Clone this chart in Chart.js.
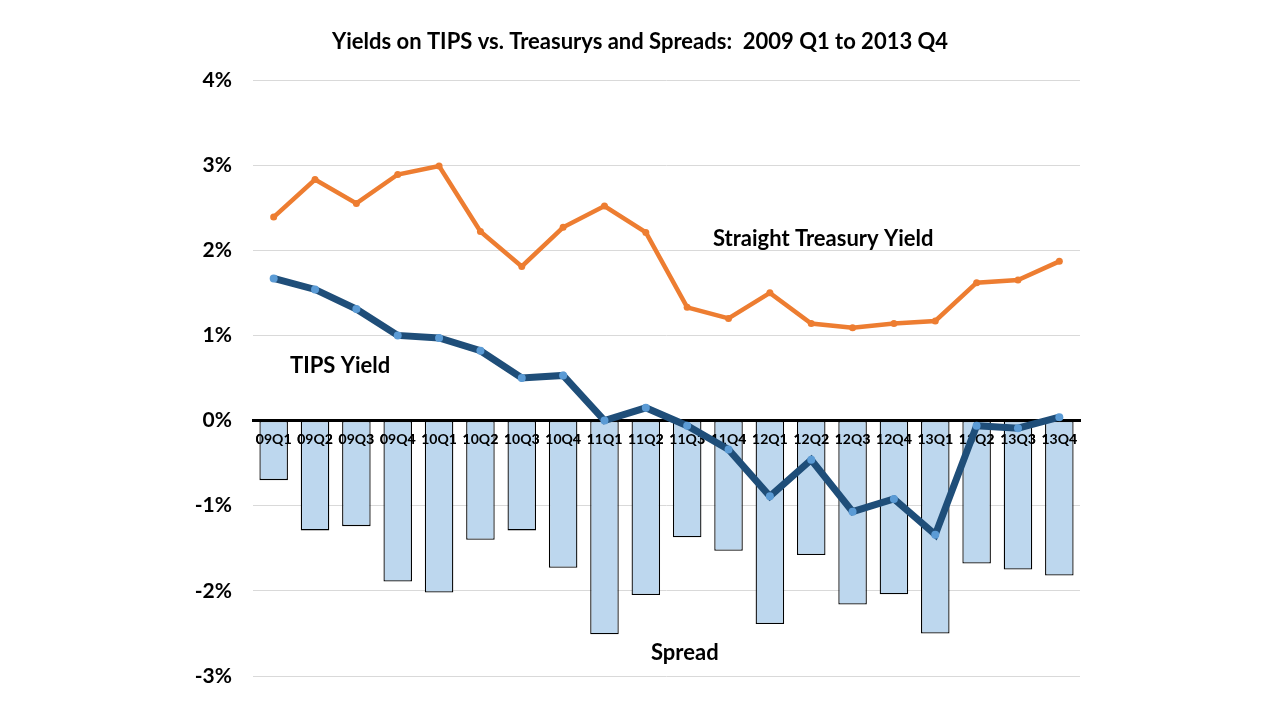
<!DOCTYPE html>
<html>
<head>
<meta charset="utf-8">
<script src="https://cdn.jsdelivr.net/npm/chart.js@4"></script>
<style>
html,body{margin:0;padding:0;background:#fff;}
#wrap{width:1280px;height:720px;}
</style>
</head>
<body>
<div id="wrap"><canvas id="c" width="1280" height="720"></canvas></div>
<script>
const quarters = ['09Q1','09Q2','09Q3','09Q4','10Q1','10Q2','10Q3','10Q4','11Q1','11Q2','11Q3','11Q4','12Q1','12Q2','12Q3','12Q4','13Q1','13Q2','13Q3','13Q4'];
const treasuryYield = [2.39,2.83,2.55,2.89,2.99,2.22,1.81,2.27,2.52,2.21,1.33,1.20,1.50,1.14,1.09,1.14,1.17,1.62,1.65,1.87];
const tipsYield = [1.67,1.54,1.31,1.00,0.97,0.82,0.50,0.53,0.00,0.15,-0.06,-0.34,-0.89,-0.46,-1.07,-0.92,-1.34,-0.06,-0.09,0.04];
const spread = [-0.70,-1.29,-1.24,-1.89,-2.02,-1.40,-1.29,-1.73,-2.51,-2.05,-1.37,-1.53,-2.39,-1.58,-2.16,-2.04,-2.50,-1.68,-1.75,-1.82];
const yTicks = [-3,-2,-1,0,1,2,3,4];
const titleText = 'Yields on TIPS vs. Treasurys and Spreads:  2009 Q1 to 2013 Q4';
const notes = [
  {text:'Straight Treasury Yield', x:713, y:239},
  {text:'TIPS Yield', x:290, y:366},
  {text:'Spread', x:651, y:653}
];
const FONT = 'Lato, "Open Sans", sans-serif';

const notesPlugin = {
  id:'notes',
  afterDatasetDraw(chart, args){
    // redraw category axis (labels + zero line) above the bars, below the lines
    if (args.index === 0) {
      chart.scales.x.draw(chart.chartArea);
    }
  },
  afterDraw(chart){
    const ctx = chart.ctx;
    ctx.save();
    ctx.fillStyle = '#000';
    ctx.textBaseline = 'middle';
    ctx.textAlign = 'center';
    ctx.font = 'bold 22px ' + FONT;
    ctx.fillText(titleText, 640, 42);
    ctx.textAlign = 'left';
    notes.forEach(n => ctx.fillText(n.text, n.x, n.y));
    ctx.restore();
  }
};

new Chart(document.getElementById('c'), {
  data: {
    labels: quarters,
    datasets: [
      {type:'bar', label:'Spread', data:spread, backgroundColor:'#BDD7EE', borderColor:'#000', borderWidth:1.3, borderSkipped:false, categoryPercentage:1, barPercentage:0.69, order:3},
      {type:'line', label:'Straight Treasury Yield', data:treasuryYield, borderColor:'#ED7D31', borderWidth:4.5, pointRadius:3.5, pointBackgroundColor:'#ED7D31', pointBorderWidth:0, tension:0, order:2},
      {type:'line', label:'TIPS Yield', data:tipsYield, borderColor:'#1F4E79', borderWidth:7, pointRadius:4, pointBackgroundColor:'#5B9BD5', pointBorderColor:'#5B9BD5', pointBorderWidth:0, tension:0, order:1}
    ]
  },
  options: {
    responsive:false,
    animation:false,
    layout:{padding:{left:0,right:200,top:80,bottom:44}},
    plugins:{
      legend:{display:false},
      tooltip:{enabled:false},
      title:{display:false}
    },
    scales:{
      x:{
        position:{y:0},
        offset:true,
        grid:{display:false, drawTicks:false},
        border:{display:true, color:'#000', width:3},
        ticks:{color:'#000', font:{family:FONT, size:14, weight:'bold'}, padding:11, maxRotation:0, autoSkip:false}
      },
      y:{
        min:-3, max:4,
        afterFit(s){ s.width = 253; },
        afterBuildTicks(s){ s.ticks = yTicks.map(v => ({value:v})); },
        grid:{color:'#d9d9d9', lineWidth:1, drawTicks:false},
        border:{display:false},
        ticks:{color:'#000', font:{family:FONT, size:21, weight:'bold'}, padding:21, callback:v => v + '%'}
      }
    }
  },
  plugins:[notesPlugin]
});
</script>
</body>
</html>
